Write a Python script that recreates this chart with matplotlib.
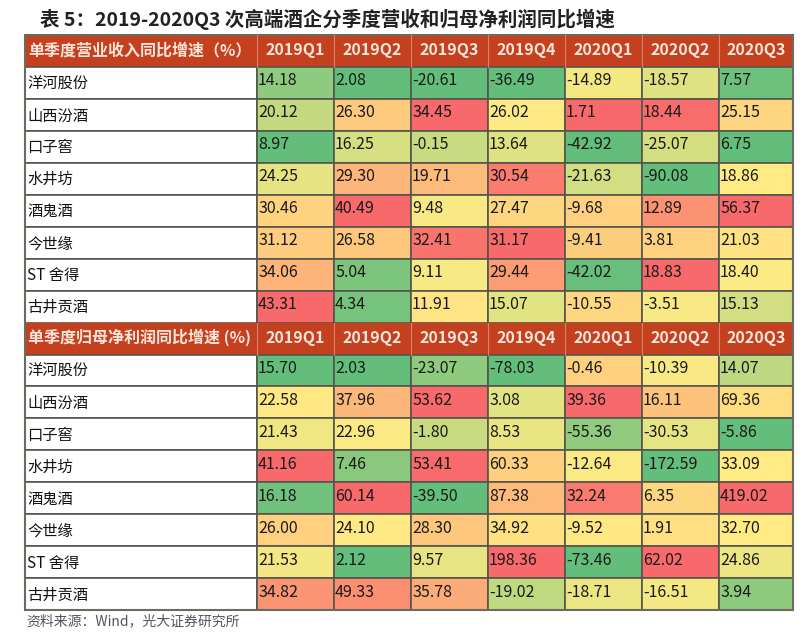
import numpy as np
import matplotlib.pyplot as plt
from matplotlib.patches import Rectangle
from matplotlib.colors import to_rgb

plt.rcParams['font.family'] = ['Noto Sans CJK SC', 'DejaVu Sans']

## data
title = '表 5：2019-2020Q3 次高端酒企分季度营收和归母净利润同比增速'
source = '资料来源：Wind，光大证券研究所'
quarters = ['2019Q1', '2019Q2', '2019Q3', '2019Q4', '2020Q1', '2020Q2', '2020Q3']
companies = ['洋河股份', '山西汾酒', '口子窖', '水井坊', '酒鬼酒', '今世缘', 'ST 舍得', '古井贡酒']

rev_header = '单季度营业收入同比增速（%）'
rev = [[14.18, 2.08, -20.61, -36.49, -14.89, -18.57, 7.57],
       [20.12, 26.30, 34.45, 26.02, 1.71, 18.44, 25.15],
       [8.97, 16.25, -0.15, 13.64, -42.92, -25.07, 6.75],
       [24.25, 29.30, 19.71, 30.54, -21.63, -90.08, 18.86],
       [30.46, 40.49, 9.48, 27.47, -9.68, 12.89, 56.37],
       [31.12, 26.58, 32.41, 31.17, -9.41, 3.81, 21.03],
       [34.06, 5.04, 9.11, 29.44, -42.02, 18.83, 18.40],
       [43.31, 4.34, 11.91, 15.07, -10.55, -3.51, 15.13]]

np_header = '单季度归母净利润同比增速 (%)'
profit = [[15.70, 2.03, -23.07, -78.03, -0.46, -10.39, 14.07],
          [22.58, 37.96, 53.62, 3.08, 39.36, 16.11, 69.36],
          [21.43, 22.96, -1.80, 8.53, -55.36, -30.53, -5.86],
          [41.16, 7.46, 53.41, 60.33, -12.64, -172.59, 33.09],
          [16.18, 60.14, -39.50, 87.38, 32.24, 6.35, 419.02],
          [26.00, 24.10, 28.30, 34.92, -9.52, 1.91, 32.70],
          [21.53, 2.12, 9.57, 198.36, -73.46, 62.02, 24.86],
          [34.82, 49.33, 35.78, -19.02, -18.71, -16.51, 3.94]]

## layout (pixels)
W, H = 805, 639
x0 = 25
col_edges = [x0, 257, 334, 411, 488, 565, 642, 719, 793]
y_top = 35
row_h = 31.95

header_bg = '#c5401f'
header_fg = '#fbe6dc'
line_c = '#55554c'

## excel style 3-colour scale (min / median / max) per column
c_lo = np.array(to_rgb('#63be7b'))
c_mid = np.array(to_rgb('#ffeb84'))
c_hi = np.array(to_rgb('#f8696b'))


def scale_colors(block):
    arr = np.array(block)
    out = np.zeros(arr.shape + (3,))
    for j in range(arr.shape[1]):
        col = arr[:, j]
        lo, mid, hi = col.min(), np.median(col), col.max()
        for i, v in enumerate(col):
            if v <= mid:
                t = (v - lo) / (mid - lo) if mid > lo else 1.0
                out[i, j] = c_lo + (c_mid - c_lo) * t
            else:
                t = (v - mid) / (hi - mid) if hi > mid else 0.0
                out[i, j] = c_mid + (c_hi - c_mid) * t
    return out


fig = plt.figure(figsize=(W / 100, H / 100), dpi=100)
ax = fig.add_axes([0, 0, 1, 1])
ax.set_xlim(0, W)
ax.set_ylim(H, 0)
ax.axis('off')

ax.text(40, 19, title, fontsize=14, fontweight='bold', color='#222222',
        va='center', ha='left')

row = 0
for head, block in [(rev_header, rev), (np_header, profit)]:
    colors = scale_colors(block)
    # header row
    y = y_top + row * row_h
    ax.add_patch(Rectangle((col_edges[0], y), col_edges[-1] - col_edges[0], row_h,
                           facecolor=header_bg, edgecolor='none'))
    ax.text(col_edges[0] + 3, y + row_h / 2 - 1, head, color=header_fg,
            fontsize=11.5, fontweight='bold', va='center', ha='left')
    for j, q in enumerate(quarters):
        xc = (col_edges[j + 1] + col_edges[j + 2]) / 2
        ax.text(xc, y + row_h / 2 - 1, q, color=header_fg, fontsize=11.5,
                fontweight='bold', va='center', ha='center')
    for j in range(1, len(col_edges) - 1):
        ax.plot([col_edges[j]] * 2, [y, y + row_h], color='#d9826a', lw=0.8)
    row += 1
    # data rows
    for i, name in enumerate(companies):
        y = y_top + row * row_h
        ax.add_patch(Rectangle((col_edges[0], y), col_edges[1] - col_edges[0], row_h,
                               facecolor='white', edgecolor=line_c, lw=1.2))
        ax.text(col_edges[0] + 2, y + row_h / 2 + 1, name, color='#111111',
                fontsize=11, va='center', ha='left')
        for j, v in enumerate(block[i]):
            ax.add_patch(Rectangle((col_edges[j + 1], y), col_edges[j + 2] - col_edges[j + 1],
                                   row_h, facecolor=colors[i, j], edgecolor=line_c, lw=1.2))
            ax.text(col_edges[j + 1] + 1, y + row_h / 2 - 2, f'{v:.2f}', color='#1a1a1a',
                    fontsize=11.5, va='center', ha='left')
        row += 1

# outer border
ax.add_patch(Rectangle((col_edges[0], y_top), col_edges[-1] - col_edges[0], row * row_h,
                       facecolor='none', edgecolor='#6b6b60', lw=1.5))

ax.text(26, y_top + row * row_h + 11, source, color='#555555', fontsize=10,
        va='center', ha='left')

fig.savefig('out.png', dpi=100)
